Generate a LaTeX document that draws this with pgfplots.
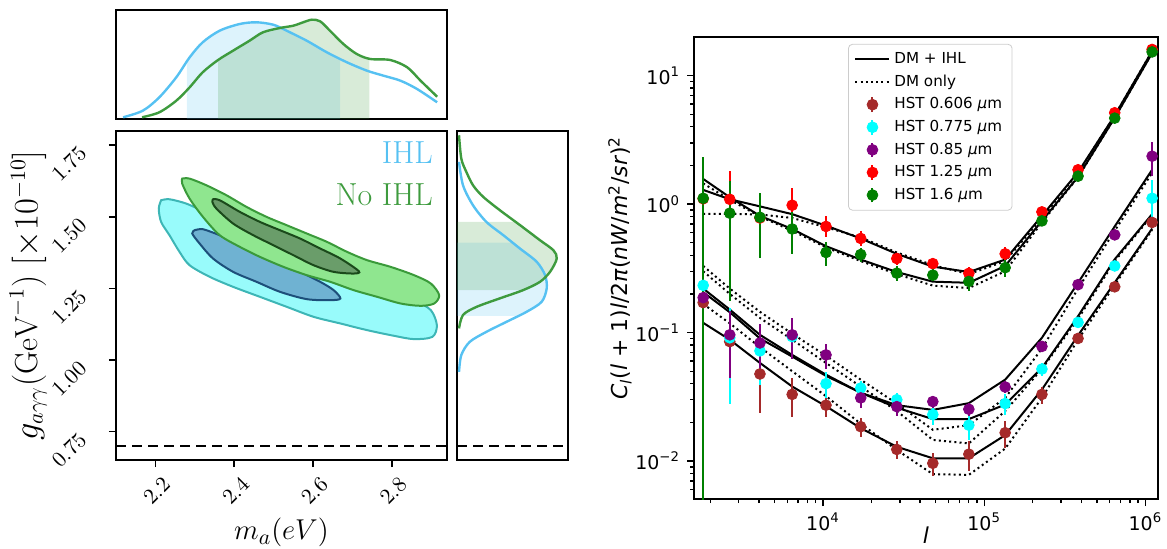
\documentclass[border=0pt]{standalone}
\usepackage{fontspec}
\setsansfont{DejaVu Sans}
\usepackage{pgfplots}
\pgfplotsset{compat=1.18}

\definecolor{ihl}{HTML}{56C1F2}
\definecolor{noihl}{HTML}{3E9B3E}
\definecolor{ihlout}{HTML}{98FBFB}
\definecolor{ihloutedge}{HTML}{3DB6B6}
\definecolor{ihlin}{HTML}{6FB2D2}
\definecolor{ihlinedge}{HTML}{1D4F7A}
\definecolor{noout}{HTML}{8FE68F}
\definecolor{nooutedge}{HTML}{3A9A3A}
\definecolor{noin}{HTML}{6A9D6A}
\definecolor{noinedge}{HTML}{1B4A1B}
\definecolor{hstbrown}{HTML}{A52A2A}
\definecolor{hstcyan}{HTML}{00FFFF}
\definecolor{hstpurple}{HTML}{800080}
\definecolor{hstred}{HTML}{FF0000}
\definecolor{hstgreen}{HTML}{008000}

\pgfplotsset{
  hst/.style={#1, only marks, mark=*, mark size=2.7bp, forget plot,
    error bars/.cd, y dir=both, y explicit, error mark=none,
    error bar style={line width=1bp}},
  hstleg/.style={legend image code/.code={
    \draw[#1, line width=1bp] (0.3cm,-0.13cm) -- (0.3cm,0.13cm);
    \fill[#1] (0.3cm,0cm) circle (2.7bp);}},
  model/.style={black, line width=1bp, forget plot},
  dmonly/.style={black, line width=1bp, dash pattern=on 1bp off 1.6bp, forget plot},
}

\begin{document}
\begin{tikzpicture}
\path[use as bounding box] (0,0) rectangle (583.5bp,274.5bp);

% ---------- main 2D posterior ----------
\begin{axis}[
  at={(58bp,44.5bp)}, anchor=south west,
  scale only axis, width=165.5bp, height=164.5bp,
  xmin=2.10, xmax=2.94, ymin=0.65, ymax=1.80,
  xtick={2.2,2.4,2.6,2.8}, ytick={0.75,1.00,1.25,1.50,1.75},
  tick pos=left, tick align=outside, major tick length=3.5bp,
  axis line style={line width=1bp}, every tick/.style={black, line width=0.8bp},
  xticklabel style={rotate=45, anchor=north east, xshift=2.5bp, yshift=-2bp,
    font=\fontsize{11}{12}\selectfont,
    /pgf/number format/.cd, fixed, fixed zerofill, precision=1},
  yticklabel style={rotate=45, anchor=east, xshift=-7.5bp, yshift=7.5bp,
    font=\fontsize{11}{12}\selectfont,
    /pgf/number format/.cd, fixed, fixed zerofill, precision=2},
  xlabel={$m_a(eV)$},
  ylabel={$g_{a\gamma\gamma}(\mathrm{GeV}^{-1})\ [\times 10^{-10}]$},
  xlabel style={font=\fontsize{15.5}{17}\selectfont, yshift=2bp},
  every axis y label/.style={at={(axis description cs:-0.265,0.5)}, rotate=90,
    anchor=center, font=\fontsize{16}{18}\selectfont},
]
% IHL 95%
\addplot[fill=ihlout, draw=ihloutedge, line width=1bp, smooth, tension=0.5] coordinates {
(2.2145,1.558) (2.2357,1.5614) (2.2782,1.5463) (2.3293,1.5148) (2.3803,1.4822)
(2.4313,1.4497) (2.4823,1.4182) (2.5333,1.3868) (2.5844,1.3542) (2.6354,1.3193)
(2.6864,1.2902) (2.7374,1.2669) (2.7969,1.2378) (2.8565,1.2087) (2.8990,1.1738)
(2.9143,1.1214) (2.9032,1.0806) (2.8565,1.0725) (2.8054,1.0841) (2.7374,1.1039)
(2.6694,1.1272) (2.6014,1.1505) (2.5333,1.1854) (2.4653,1.2203) (2.3973,1.2552)
(2.3378,1.2902) (2.2867,1.3309) (2.2612,1.3775) (2.2357,1.4357) (2.2145,1.4822)
(2.2085,1.5288) (2.2145,1.558)} -- cycle;
% IHL 68%
\addplot[fill=ihlin, draw=ihlinedge, line width=1bp, smooth, tension=0.5] coordinates {
(2.2995,1.4531) (2.3207,1.4566) (2.3633,1.4357) (2.4143,1.4066) (2.4653,1.3717)
(2.5163,1.3426) (2.5673,1.3076) (2.6184,1.2727) (2.6524,1.2436) (2.6694,1.2145)
(2.6439,1.2087) (2.5844,1.2122) (2.5163,1.2378) (2.4568,1.2727) (2.3973,1.3076)
(2.3463,1.3542) (2.3122,1.4066) (2.2935,1.4415) (2.2995,1.4531)} -- cycle;
% No IHL 95%
\addplot[fill=noout, draw=nooutedge, line width=1bp, smooth, tension=0.5] coordinates {
(2.268,1.6336) (2.2867,1.6336) (2.3293,1.6103) (2.3803,1.5754) (2.4313,1.5346)
(2.4823,1.4997) (2.5333,1.4706) (2.5844,1.4415) (2.6354,1.4124) (2.6864,1.3775)
(2.7374,1.3484) (2.7969,1.3251) (2.8565,1.2960) (2.8990,1.2669) (2.9202,1.2261)
(2.9075,1.1970) (2.8735,1.1889) (2.8224,1.1970) (2.7629,1.2203) (2.7034,1.2436)
(2.6439,1.2727) (2.5844,1.2960) (2.5248,1.3251) (2.4653,1.3600) (2.4143,1.3949)
(2.3633,1.4357) (2.3207,1.4997) (2.2867,1.5637) (2.268,1.6161) (2.268,1.6336)} -- cycle;
% No IHL 68%
\addplot[fill=noin, draw=noinedge, line width=1bp, smooth, tension=0.5] coordinates {
(2.3463,1.5614) (2.3633,1.5579) (2.4143,1.5172) (2.4653,1.4822) (2.5163,1.4531)
(2.5673,1.4240) (2.6184,1.3891) (2.6694,1.3542) (2.7162,1.3100) (2.7034,1.3018)
(2.6524,1.3076) (2.6014,1.3309) (2.5503,1.3658) (2.4993,1.4008) (2.4483,1.4357)
(2.3973,1.4764) (2.3548,1.5288) (2.3446,1.5521) (2.3463,1.5614)} -- cycle;
\addplot[black, line width=1bp, dash pattern=on 5bp off 3bp] coordinates {(2.10,0.70) (2.94,0.70)};
\node[anchor=base east, text=ihl, font=\fontsize{16}{18}\selectfont] at (axis cs:2.922,1.687) {IHL};
\node[anchor=base east, text=noihl, font=\fontsize{16}{18}\selectfont] at (axis cs:2.922,1.540) {No IHL};
\end{axis}

% ---------- top marginal (m_a) ----------
\begin{axis}[
  at={(58bp,215bp)}, anchor=south west,
  scale only axis, width=165.5bp, height=54.5bp,
  xmin=2.10, xmax=2.94, ymin=0, ymax=109,
  xtick=\empty, ytick=\empty, axis line style={line width=1bp},
]
% 68% bands under the curves
\addplot[fill=ihl, fill opacity=0.2, draw=none] coordinates {
(2.280,0) (2.280,57.6) (2.287,61.7) (2.320,76.7) (2.363,88.3) (2.414,95)
(2.456,96.7) (2.499,94.3) (2.533,88.3) (2.584,78.3) (2.635,66.7) (2.669,60.0) (2.669,0)} -- cycle;
\addplot[fill=noihl, fill opacity=0.2, draw=none] coordinates {
(2.359,0) (2.359,59) (2.397,68.3) (2.439,78.3) (2.473,86.7) (2.516,91)
(2.550,93.3) (2.575,96.7) (2.597,99.3) (2.618,97.7) (2.643,88.3) (2.677,75)
(2.711,65) (2.743,60.3) (2.743,0)} -- cycle;
\addplot[ihl, line width=1.2bp, smooth] coordinates {
(2.118,1.7) (2.168,8.3) (2.210,21.7) (2.253,41.7) (2.287,61.7) (2.320,76.7)
(2.363,88.3) (2.414,95) (2.456,96.7) (2.499,94.3) (2.533,88.3) (2.584,78.3)
(2.635,66.7) (2.686,56.7) (2.737,48.3) (2.779,43.3) (2.822,38.3) (2.864,30) (2.915,16.7)};
\addplot[noihl, line width=1.2bp, smooth] coordinates {
(2.166,1.7) (2.210,6.7) (2.253,18.3) (2.287,31.7) (2.320,46.7) (2.359,59)
(2.397,68.3) (2.439,78.3) (2.473,86.7) (2.516,91) (2.550,93.3) (2.575,96.7)
(2.597,99.3) (2.618,97.7) (2.643,88.3) (2.677,75) (2.711,65) (2.745,60)
(2.796,59) (2.839,51.7) (2.873,38.3) (2.915,22.3)};
\end{axis}

% ---------- right marginal (g) ----------
\begin{axis}[
  at={(228.5bp,44.5bp)}, anchor=south west,
  scale only axis, width=55.5bp, height=164.5bp,
  xmin=0, xmax=110.5, ymin=0.65, ymax=1.80,
  xtick=\empty, ytick=\empty, axis line style={line width=1bp},
]
\addplot[fill=ihl, fill opacity=0.2, draw=none] coordinates {
(0,1.154) (61.3,1.154) (69.3,1.168) (84.3,1.203) (89.3,1.250) (87.7,1.296)
(79.3,1.343) (62.7,1.389) (55.2,1.410) (0,1.410)} -- cycle;
\addplot[fill=noihl, fill opacity=0.2, draw=none] coordinates {
(0,1.244) (66,1.244) (82.7,1.273) (92.7,1.308) (99.3,1.354) (96,1.383)
(82.7,1.418) (62.7,1.471) (58.5,1.482) (0,1.482)} -- cycle;
\addplot[ihl, line width=1.2bp, smooth] coordinates {
(2,0.958) (4.3,1.017) (12.7,1.063) (29.3,1.098) (49.3,1.133) (69.3,1.168)
(84.3,1.203) (89.3,1.250) (87.7,1.296) (79.3,1.343) (62.7,1.389) (46,1.436)
(29.3,1.482) (16,1.540) (6,1.610) (2,1.692)};
\addplot[noihl, line width=1.2bp, smooth] coordinates {
(2,1.110) (6,1.157) (19.3,1.185) (42.7,1.215) (66,1.244) (82.7,1.273)
(92.7,1.308) (99.3,1.354) (96,1.383) (82.7,1.418) (62.7,1.471) (42.7,1.523)
(26,1.570) (16,1.610) (9.3,1.657) (4.3,1.703) (2,1.785)};
\addplot[black, line width=1bp, dash pattern=on 5bp off 3bp] coordinates {(0,0.70) (110.5,0.70)};
\end{axis}

% ---------- angular power spectrum ----------
\begin{axis}[
  at={(347bp,25bp)}, anchor=south west,
  scale only axis, width=232bp, height=231bp,
  xmode=log, ymode=log,
  xmin=1585, xmax=1.197e6, ymin=0.00506, ymax=20,
  xtick={1e4,1e5,1e6},
  xticklabels={10\textsuperscript{4},10\textsuperscript{5},10\textsuperscript{6}},
  ytick={0.01,0.1,1,10},
  yticklabels={10\textsuperscript{−2},10\textsuperscript{−1},10\textsuperscript{0},10\textsuperscript{1}},
  minor xtick={2000,3000,4000,5000,6000,7000,8000,9000,20000,30000,40000,50000,60000,70000,80000,90000,200000,300000,400000,500000,600000,700000,800000,900000},
  minor ytick={0.006,0.007,0.008,0.009,0.02,0.03,0.04,0.05,0.06,0.07,0.08,0.09,0.2,0.3,0.4,0.5,0.6,0.7,0.8,0.9,2,3,4,5,6,7,8,9},
  tick pos=left, tick align=outside,
  major tick length=3.5bp, minor tick length=2bp,
  every tick/.style={black, line width=0.7bp},
  axis line style={line width=0.75bp},
  ticklabel style={font=\sffamily\fontsize{9.5}{11}\selectfont},
  label style={font=\sffamily\fontsize{11}{12}\selectfont},
  xlabel={\textit{l}},
  xlabel style={yshift=9bp},
  ylabel style={yshift=-5bp},
  ylabel={\textit{C}\textsubscript{\textit{l}}(\textit{l} + 1)\textit{l}/2\textit{π}(\textit{nW}/\textit{m}\textsuperscript{2}/\textit{sr})\textsuperscript{2}},
  legend cell align=left,
  legend style={at={(0.332,0.985)}, anchor=north west, draw=black!20,
    rounded corners=2bp, fill=white, font=\sffamily\fontsize{7.6}{8.6}\selectfont,
    row sep=0.2bp, inner xsep=3bp, inner ysep=2bp},
]
\addlegendimage{black, line width=1bp}
\addlegendentry{DM + IHL}
\addlegendimage{black, line width=1bp, dash pattern=on 1bp off 1.6bp}
\addlegendentry{DM only}
\addlegendimage{hstleg=hstbrown}
\addlegendentry{HST 0.606 \textit{μ}m}
\addlegendimage{hstleg=hstcyan}
\addlegendentry{HST 0.775 \textit{μ}m}
\addlegendimage{hstleg=hstpurple}
\addlegendentry{HST 0.85 \textit{μ}m}
\addlegendimage{hstleg=hstred}
\addlegendentry{HST 1.25 \textit{μ}m}
\addlegendimage{hstleg=hstgreen}
\addlegendentry{HST 1.6 \textit{μ}m}

% DM + IHL models
\addplot[model] table {
l C
1807 1.29
2641 1.09
4064 0.96
6440 0.835
10440 0.68
17140 0.54
28700 0.41
48000 0.326
80300 0.296
134900 0.37
228000 0.81
382000 1.77
645000 4.9
1100000 15.5
};
\addplot[model] table {
l C
1807 1.57
2641 1.13
4064 0.81
6440 0.64
10440 0.47
17140 0.37
28700 0.296
48000 0.249
80300 0.244
134900 0.33
228000 0.74
382000 1.63
645000 4.7
1100000 15.0
};
\addplot[model] table {
l C
1807 0.22
2641 0.151
4064 0.096
6440 0.067
10440 0.047
17140 0.034
28700 0.0272
48000 0.025
80300 0.0282
134900 0.043
228000 0.091
382000 0.244
645000 0.67
1100000 1.85
};
\addplot[model] table {
l C
1807 0.206
2641 0.144
4064 0.090
6440 0.065
10440 0.046
17140 0.034
28700 0.026
48000 0.0212
80300 0.0212
134900 0.0275
228000 0.053
382000 0.134
645000 0.372
1100000 0.835
};
\addplot[model] table {
l C
1807 0.119
2641 0.088
4064 0.058
6440 0.038
10440 0.0267
17140 0.018
28700 0.0129
48000 0.0105
80300 0.0105
134900 0.0159
228000 0.036
382000 0.095
645000 0.245
1100000 0.645
};
% DM only models
\addplot[dmonly] table {
l C
1807 0.84
2641 0.84
4064 0.83
6440 0.78
10440 0.66
17140 0.55
28700 0.42
48000 0.335
80300 0.285
134900 0.36
228000 0.78
382000 1.75
645000 4.9
1100000 15.5
};
\addplot[dmonly] table {
l C
1807 1.45
2641 1.08
4064 0.80
6440 0.62
10440 0.46
17140 0.36
28700 0.285
48000 0.232
80300 0.222
134900 0.30
228000 0.72
382000 1.62
645000 4.7
1100000 15.0
};
\addplot[dmonly] table {
l C
1807 0.33
2641 0.22
4064 0.145
6440 0.098
10440 0.066
17140 0.043
28700 0.028
48000 0.0175
80300 0.019
134900 0.031
228000 0.075
382000 0.22
645000 0.62
1100000 1.75
};
\addplot[dmonly] table {
l C
1807 0.30
2641 0.20
4064 0.13
6440 0.088
10440 0.058
17140 0.038
28700 0.0245
48000 0.0146
80300 0.0137
134900 0.0245
228000 0.052
382000 0.128
645000 0.36
1100000 0.82
};
\addplot[dmonly] table {
l C
1807 0.167
2641 0.118
4064 0.077
6440 0.05
10440 0.032
17140 0.0195
28700 0.0122
48000 0.0079
80300 0.0078
134900 0.0125
228000 0.031
382000 0.088
645000 0.235
1100000 0.63
};

% HST 0.606
\addplot[hst=hstbrown] table[x=l, y=C, y error plus=ep, y error minus=em] {
l C ep em
1807 0.171 0.1 0.1
2641 0.085 0.03 0.03
4064 0.0476 0.024 0.024
6440 0.033 0.011 0.011
10440 0.0272 0.005 0.005
17140 0.0185 0.003 0.003
28700 0.0123 0.002 0.002
48000 0.0096 0.002 0.002
80300 0.0113 0.003 0.003
134900 0.0166 0.004 0.004
228000 0.033 0.005 0.005
382000 0.090 0.006 0.006
645000 0.227 0.01 0.01
1100000 0.72 0.06 0.06
};
% HST 0.775
\addplot[hst=hstcyan] table[x=l, y=C, y error plus=ep, y error minus=em] {
l C ep em
1807 0.233 0.1 0.1
2641 0.091 0.063 0.063
4064 0.072 0.033 0.033
6440 0.093 0.03 0.03
10440 0.040 0.009 0.009
17140 0.037 0.005 0.005
28700 0.030 0.004 0.004
48000 0.023 0.004 0.004
80300 0.019 0.0045 0.0045
134900 0.028 0.005 0.005
228000 0.052 0.006 0.006
382000 0.12 0.01 0.01
645000 0.33 0.02 0.02
1100000 1.11 0.42 0.42
};
% HST 0.85
\addplot[hst=hstpurple] table[x=l, y=C, y error plus=ep, y error minus=em] {
l C ep em
1807 0.187 0.1 0.1
2641 0.096 0.052 0.052
4064 0.083 0.033 0.033
6440 0.096 0.034 0.034
10440 0.067 0.015 0.015
17140 0.031 0.005 0.005
28700 0.0265 0.004 0.004
48000 0.029 0.003 0.003
80300 0.0253 0.003 0.003
134900 0.0377 0.004 0.004
228000 0.078 0.006 0.006
382000 0.236 0.015 0.015
645000 0.576 0.03 0.03
1100000 2.36 0.7 0.7
};
% HST 1.25
\addplot[hst=hstred] table[x=l, y=C, y error plus=ep, y error minus=em] {
l C ep em
1807 1.10 0.3 0.3
2641 1.09 0.73 0.45
4064 0.78 0.3 0.3
6440 0.98 0.35 0.3
10440 0.67 0.14 0.12
17140 0.54 0.075 0.07
28700 0.377 0.04 0.04
48000 0.344 0.04 0.04
80300 0.289 0.035 0.035
134900 0.41 0.05 0.05
228000 0.87 0.05 0.05
382000 1.85 0.1 0.1
645000 5.14 0.2 0.2
1100000 16.0 0.3 0.3
};
% HST 1.6
\addplot[hst=hstgreen] table[x=l, y=C, y error plus=ep, y error minus=em] {
l C ep em
1807 1.11 1.22 1.107
2641 0.85 0.67 0.675
4064 0.79 0.43 0.41
6440 0.64 0.23 0.23
10440 0.42 0.09 0.09
17140 0.405 0.05 0.05
28700 0.29 0.04 0.04
48000 0.28 0.03 0.03
80300 0.25 0.04 0.04
134900 0.32 0.05 0.05
228000 0.74 0.06 0.06
382000 1.65 0.1 0.1
645000 4.67 0.3 0.3
1100000 15.3 0.8 0.8
};
\end{axis}
\end{tikzpicture}
\end{document}
